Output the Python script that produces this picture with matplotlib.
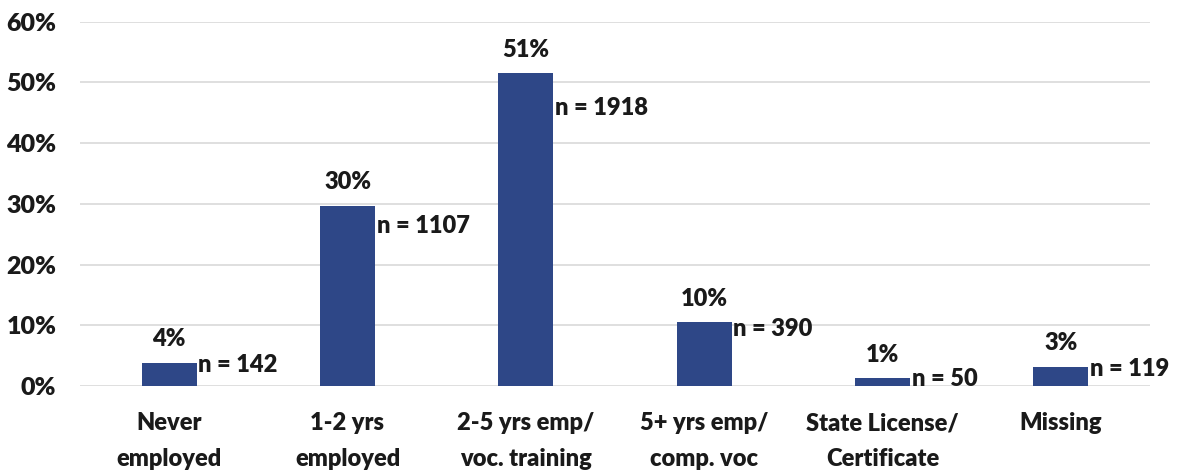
import numpy as np
import matplotlib
matplotlib.use('Agg')
import matplotlib.pyplot as plt

# dati
categorie = ['Never\nemployed', '1-2 yrs\nemployed', '2-5 yrs emp/\nvoc. training',
             '5+ yrs emp/\ncomp. voc', 'State License/\nCertificate', 'Missing']
percentuali = [3.8, 29.7, 51.5, 10.5, 1.3, 3.2]
etichette_pct = ['4%', '30%', '51%', '10%', '1%', '3%']
conteggi = [142, 1107, 1918, 390, 50, 119]
yticks = [0, 10, 20, 30, 40, 50, 60]

plt.rcParams['font.family'] = ['Lato', 'DejaVu Sans']
peso = 'heavy'

fig = plt.figure(figsize=(11.87, 4.70), dpi=100)
ax = fig.add_axes([80/1187, 1-386/470, (1150-80)/1187, (386-21.7)/470])

x = np.arange(len(categorie))
larghezza = 0.31
colore = '#2E4787'
ax.bar(x, percentuali, width=larghezza, color=colore, zorder=3)

for xi, p, lab, n in zip(x, percentuali, etichette_pct, conteggi):
    ax.annotate(lab, (xi, p), xytext=(0, 9), textcoords='offset points',
                ha='center', va='bottom', fontsize=17, fontweight=peso, color='#1a1a1a')
    ax.annotate('n = {}'.format(n), (xi + larghezza/2, p*0.89), xytext=(1, 0),
                textcoords='offset points', ha='left', va='center',
                fontsize=17, fontweight=peso, color='#1a1a1a', zorder=4)

ax.set_xlim(-0.5, len(categorie) - 0.5)
ax.set_ylim(0, 60)
ax.set_yticks(yticks)
ax.set_yticklabels(['{}%'.format(t) for t in yticks])
ax.set_xticks(x)
ax.set_xticklabels(categorie, linespacing=1.75)
ax.grid(axis='y', color='#d9d9d9', linewidth=1.2, zorder=0)
for s in ax.spines.values():
    s.set_visible(False)
ax.tick_params(axis='both', length=0, colors='#1a1a1a')
ax.tick_params(axis='y', pad=17, labelsize=18)
ax.tick_params(axis='x', pad=19, labelsize=17)
for t in ax.get_xticklabels() + ax.get_yticklabels():
    t.set_fontweight(peso)

fig.savefig('out.png', dpi=100)
